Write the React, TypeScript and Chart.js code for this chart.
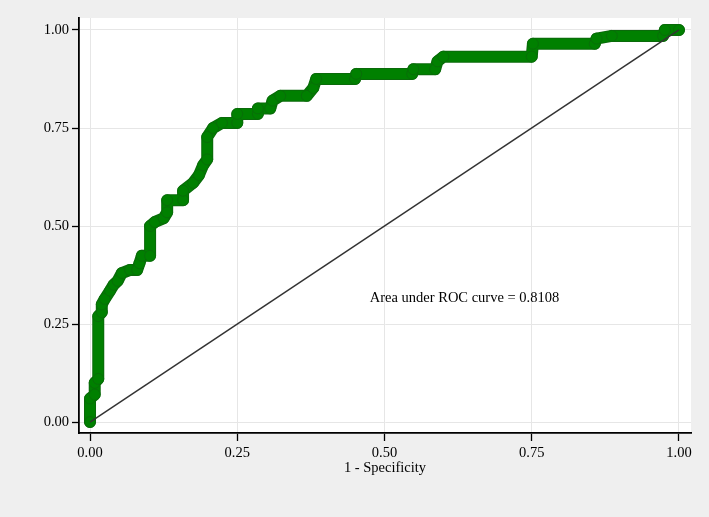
import React, { useEffect, useRef } from "react";
import { Chart, registerables } from "chart.js";

Chart.register(...registerables);

// ROC curve vertices (1 - specificity, sensitivity)
const fprValues = [0, 0, 0.008, 0.008, 0.014, 0.014, 0.02, 0.02, 0.025, 0.034, 0.04, 0.047, 0.054, 0.068, 0.08, 0.084, 0.088, 0.102, 0.102, 0.11, 0.125, 0.131, 0.131, 0.158, 0.158, 0.175, 0.185, 0.192, 0.199, 0.199, 0.209, 0.224, 0.25, 0.25, 0.285, 0.285, 0.306, 0.31, 0.323, 0.368, 0.379, 0.384, 0.45, 0.452, 0.547, 0.549, 0.586, 0.59, 0.6, 0.75, 0.752, 0.857, 0.86, 0.886, 0.973, 0.976, 1];
const tprValues = [0, 0.06, 0.07, 0.1, 0.11, 0.27, 0.28, 0.3, 0.314, 0.335, 0.35, 0.36, 0.38, 0.388, 0.388, 0.405, 0.424, 0.424, 0.5, 0.51, 0.52, 0.535, 0.566, 0.566, 0.59, 0.61, 0.63, 0.655, 0.67, 0.727, 0.75, 0.763, 0.763, 0.786, 0.786, 0.8, 0.8, 0.82, 0.832, 0.832, 0.852, 0.875, 0.875, 0.888, 0.888, 0.9, 0.9, 0.92, 0.932, 0.932, 0.965, 0.965, 0.978, 0.985, 0.985, 1, 1];

// Reference diagonal
const diagX = [0, 1];
const diagY = [0, 1];

const tickValues = [0, 0.25, 0.5, 0.75, 1];
const annotationText = "Area under ROC curve = 0.8108";
const annotationX = 0.475;
const annotationY = 0.316;

const FONT = "'Liberation Serif', 'Times New Roman', serif";
const FSIZE = 14.5;

export default function App() {
  const ref = useRef<HTMLCanvasElement | null>(null);

  useEffect(() => {
    document.body.style.margin = "0";
    const canvas = ref.current;
    if (!canvas) return;
    const rocPoints = fprValues.map((x, i) => ({ x, y: tprValues[i] }));
    const diagPoints = diagX.map((x, i) => ({ x, y: diagY[i] }));

    const bgPlugin = {
      id: "bg",
      beforeDraw(chart: any) {
        const { ctx, chartArea } = chart;
        ctx.save();
        ctx.fillStyle = "#efefef";
        ctx.fillRect(0, 0, chart.width, chart.height);
        ctx.fillStyle = "#ffffff";
        ctx.fillRect(chartArea.left, chartArea.top, chartArea.right - chartArea.left, chartArea.bottom - chartArea.top);
        ctx.restore();
      },
    };
    const textPlugin = {
      id: "annot",
      afterDatasetsDraw(chart: any) {
        const { ctx, scales } = chart;
        ctx.save();
        ctx.font = `${FSIZE}px ${FONT}`;
        ctx.fillStyle = "#000";
        ctx.textAlign = "left";
        ctx.textBaseline = "middle";
        ctx.fillText(annotationText, scales.x.getPixelForValue(annotationX), scales.y.getPixelForValue(annotationY));
        ctx.restore();
      },
    };

    const chart = new Chart(canvas, {
      type: "line",
      data: {
        datasets: [
          {
            data: diagPoints,
            borderColor: "#333333",
            borderWidth: 1.5,
            pointRadius: 0,
            order: 0,
          },
          {
            data: rocPoints,
            borderColor: "#008000",
            borderWidth: 10,
            borderCapStyle: "round",
            borderJoinStyle: "round",
            pointRadius: 5.5,
            pointBackgroundColor: "#008000",
            pointBorderColor: "#0a6a0a",
            pointBorderWidth: 0.8,
            order: 1,
          },
          {
            data: rocPoints,
            borderColor: "#0a6a0a",
            borderWidth: 12,
            borderCapStyle: "round",
            borderJoinStyle: "round",
            pointRadius: 0,
            order: 2,
          },
        ] as any,
      },
      options: {
        animation: false,
        responsive: false,
        parsing: false as any,
        layout: { padding: { left: 0, top: 18, right: 18, bottom: 0 } },
        plugins: { legend: { display: false }, tooltip: { enabled: false } },
        scales: {
          x: {
            type: "linear",
            min: -0.0187,
            max: 1.0204,
            afterBuildTicks: (axis: any) => {
              axis.ticks = tickValues.map((v) => ({ value: v }));
            },
            afterFit: (scale: any) => {
              scale.height = 84;
            },
            ticks: {
              callback: (v: any) => Number(v).toFixed(2),
              color: "#000",
              font: { family: FONT, size: FSIZE },
              padding: 3,
              maxRotation: 0,
            },
            grid: { color: "#e6e6e6", tickColor: "#000", tickLength: 8, lineWidth: 1, tickWidth: 1.3 },
            border: { display: true, color: "#000", width: 1.8 },
            title: {
              display: true,
              text: "1 - Specificity",
              color: "#000",
              font: { family: FONT, size: FSIZE },
              padding: { top: 0, bottom: 40 },
            },
          },
          y: {
            type: "linear",
            min: -0.028,
            max: 1.0306,
            afterBuildTicks: (axis: any) => {
              axis.ticks = tickValues.map((v) => ({ value: v }));
            },
            afterFit: (scale: any) => {
              scale.width = 79;
            },
            ticks: {
              callback: (v: any) => Number(v).toFixed(2),
              color: "#000",
              font: { family: FONT, size: FSIZE },
              padding: 3,
            },
            grid: { color: "#e6e6e6", tickColor: "#000", tickLength: 7, lineWidth: 1, tickWidth: 1.3 },
            border: { display: true, color: "#000", width: 1.8 },
          },
        },
      } as any,
      plugins: [bgPlugin, textPlugin],
    });
    return () => chart.destroy();
  }, []);

  return (
    <div style={{ position: "absolute", left: 0, top: 0, width: 709, height: 517, background: "#efefef" }}>
      <canvas ref={ref} width={709} height={517} style={{ display: "block", width: 709, height: 517 }} />
    </div>
  );
}
